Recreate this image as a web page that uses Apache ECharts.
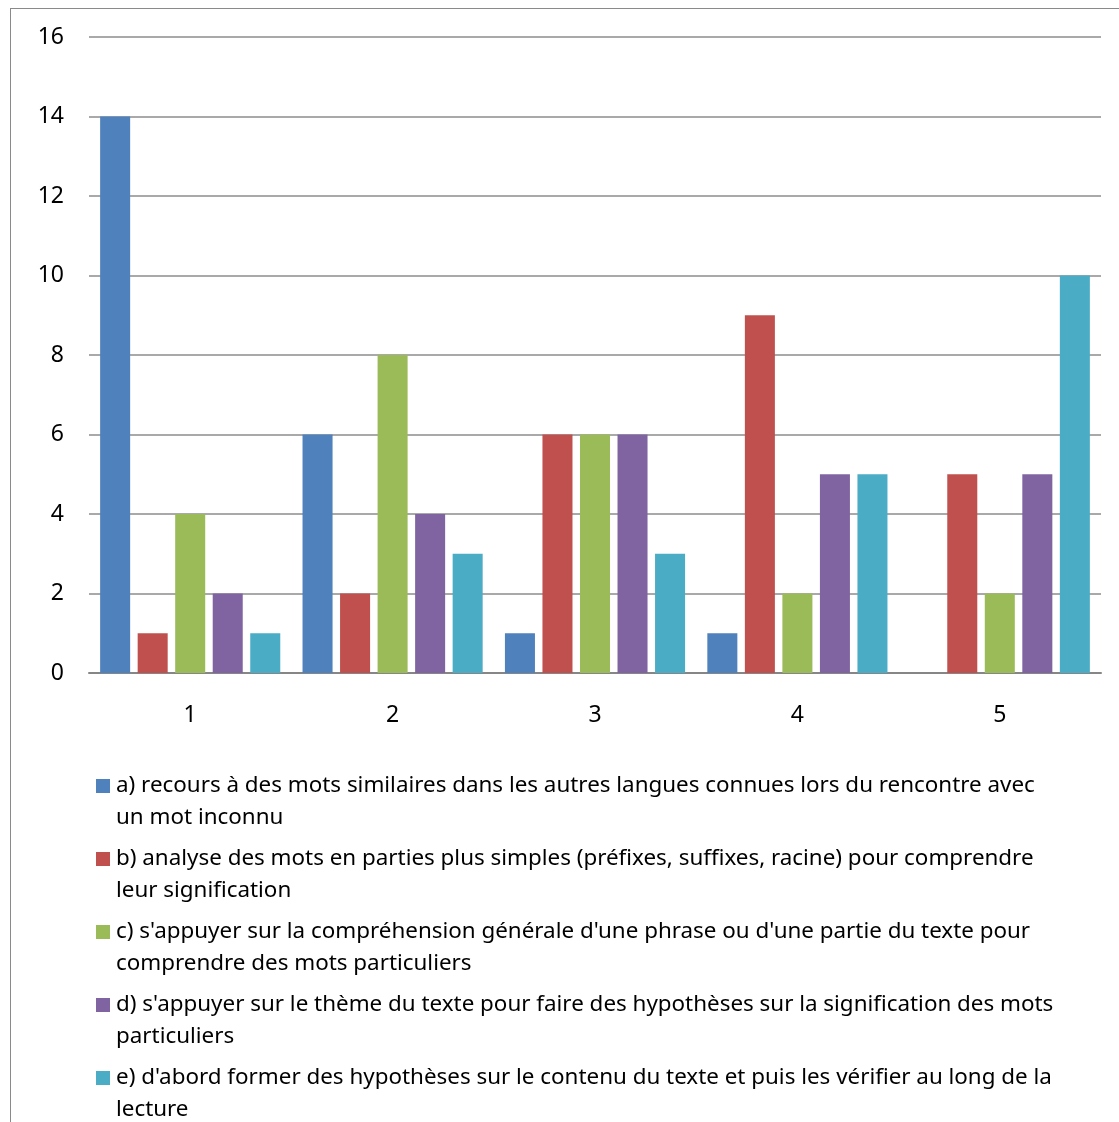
<!DOCTYPE html>
<html>
<head>
<meta charset="utf-8">
<script src="https://cdn.jsdelivr.net/npm/echarts@6/dist/echarts.min.js"></script>
<style>
  html, body { margin: 0; padding: 0; background: #fff; }
  #chart { width: 1119px; height: 1122px; }
  /* cadre du graphique (bord gauche et haut visibles) */
  .frame {
    position: absolute; left: 10px; top: 8px; width: 1200px; height: 1200px;
    border-left: 1px solid #8a8a8a; border-top: 1px solid #8a8a8a;
    pointer-events: none;
  }
</style>
</head>
<body>
<div id="chart"></div>
<div class="frame"></div>
<script>
// categories de l'axe x
const categories = ['1', '2', '3', '4', '5']

// valeurs de chaque série
const seriesA = [14, 6, 1, 1, 0]
const seriesB = [1, 2, 6, 9, 5]
const seriesC = [4, 8, 6, 2, 2]
const seriesD = [2, 4, 6, 5, 5]
const seriesE = [1, 3, 3, 5, 10]

// libellés de la légende (première ligne, suite)
const legendLines = [
  ["a) recours à des mots similaires dans les autres langues connues lors du rencontre avec", "un mot inconnu"],
  ["b) analyse des mots en parties plus simples (préfixes, suffixes, racine) pour comprendre", "leur signification"],
  ["c) s'appuyer sur la compréhension générale d'une phrase ou d'une partie du texte pour", "comprendre des mots particuliers"],
  ["d) s'appuyer sur le thème du texte pour faire des hypothèses sur la signification des mots", "particuliers"],
  ["e) d'abord former des hypothèses sur le contenu du texte et puis les vérifier au long de la", "lecture"],
]

const colors = ['#4F81BD', '#C0504D', '#9BBB59', '#8064A2', '#4BACC6']
const values = [seriesA, seriesB, seriesC, seriesD, seriesE]
const names = legendLines.map((l) => l.join(' '))

const font = 'Noto Sans'

const rich = {
  pad: { width: 20 },
  gap: { width: 6 },
  t: { fontSize: 22.4, lineHeight: 32, color: '#000', fontFamily: font },
}
colors.forEach((c, i) => {
  rich['sq' + i] = { width: 14, height: 14, backgroundColor: c }
})

const chart = echarts.init(document.getElementById('chart'))
chart.setOption({
  animation: false,
  color: colors,
  textStyle: { fontFamily: font },
  grid: { left: 89, right: 18, top: 37, bottom: 449 },
  legend: {
    orient: 'vertical',
    left: 86,
    top: 765,
    height: 420,
    icon: 'none',
    itemWidth: 0,
    itemHeight: 0,
    itemGap: 9,
    selectedMode: false,
    data: names,
    formatter: (name) => {
      const i = names.indexOf(name)
      const l = legendLines[i]
      return '{sq' + i + '|}{gap|}{t|' + l[0] + '}\n{pad|}{t|' + l[1] + '}'
    },
    textStyle: { rich: rich, fontSize: 22.4, lineHeight: 32 },
  },
  xAxis: {
    type: 'category',
    data: categories,
    axisTick: { show: false },
    axisLine: { lineStyle: { color: '#868686', width: 2 } },
    axisLabel: { fontSize: 23, color: '#000', margin: 31 },
  },
  yAxis: {
    type: 'value',
    min: 0,
    max: 16,
    interval: 2,
    axisLine: { show: false },
    axisTick: { show: false },
    axisLabel: { fontSize: 23, color: '#000', margin: 25 },
    splitLine: { lineStyle: { color: '#8c8c8c', width: 1.5 } },
  },
  series: values.map((v, i) => ({
    name: names[i],
    type: 'bar',
    data: v,
    barGap: '25%',
    barCategoryGap: '11%',
    itemStyle: { color: colors[i] },
  })),
})
</script>
</body>
</html>
